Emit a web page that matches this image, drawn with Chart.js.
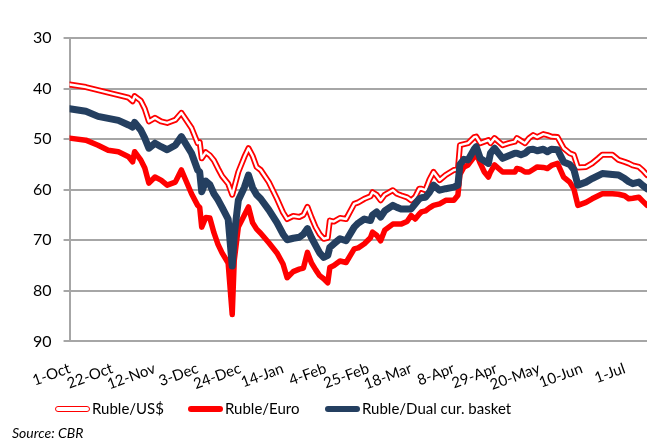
<!DOCTYPE html>
<html>
<head>
<meta charset="utf-8">
<script src="https://cdn.jsdelivr.net/npm/chart.js@4/dist/chart.umd.min.js"></script>
<style>
  body { margin: 0; background: #fff; font-family: Lato, sans-serif; }
  #wrap { position: relative; width: 652px; height: 445px; }
  .sw { position: absolute; height: 6px; border-radius: 3px; width: 35px; box-sizing: border-box; }
  .lt { position: absolute; font-size: 15px; color: #000; white-space: nowrap; }
  #src { position: absolute; left: 12px; top: 424px; font-size: 14px; font-style: italic; color: #000; }
</style>
</head>
<body>
<div id="wrap">
  <canvas id="chart" width="652" height="445"></canvas>
  <div class="sw" style="left:55px; top:406px; border:1.6px solid #ff0000; background:#fff;"></div>
  <div class="lt" style="left:92px; top:399px;">Ruble/US$</div>
  <div class="sw" style="left:188px; top:406px; background:#ff0000;"></div>
  <div class="lt" style="left:225px; top:399px;">Ruble/Euro</div>
  <div class="sw" style="left:325px; top:406px; background:#243f60;"></div>
  <div class="lt" style="left:362px; top:399px;">Ruble/Dual cur. basket</div>
  <div id="src">Source: CBR</div>
</div>
<script>
// days counted from 1-Oct
let days = [0, 8, 14, 19, 24, 29, 31, 32, 35, 37,
    39, 42, 45, 48, 52, 55, 60, 63, 64, 65,
    67, 69, 71, 73, 75, 78, 80, 81, 83, 86,
    88, 90, 92, 94, 98, 102, 105, 107, 110, 113,
    115, 117, 119, 121, 123, 125, 127, 128, 130, 133,
    136, 140, 142, 145, 148, 149, 151, 153, 155, 159,
    161, 163, 166, 168, 170, 172, 173, 175, 177, 179,
    182, 185, 189, 191, 192, 194, 196, 199, 200, 202,
    204, 206, 207, 209, 213, 216, 219, 220, 222, 224,
    226, 228, 230, 233, 235, 237, 240, 243, 246, 248,
    250, 254, 257, 260, 262, 267, 270, 273, 275, 277,
    280, 282, 284];

let usd = [39.2, 39.7, 40.3, 40.8, 41.3, 41.8, 42.5, 41.5, 42.4, 44.0,
    46.5, 45.8, 46.5, 46.8, 46.2, 44.8, 47.8, 50.8, 50.6, 53.8,
    52.6, 53.2, 54.2, 55.8, 57.3, 58.8, 61.0, 59.5, 56.5, 53.5,
    51.8, 53.3, 55.5, 56.1, 58.5, 61.8, 64.5, 65.8, 65.2, 65.4,
    65.0, 63.4, 65.5, 67.4, 68.8, 69.7, 69.5, 66.1, 66.3, 65.6,
    65.8, 62.8, 62.5, 61.8, 61.3, 60.5, 61.0, 62.1, 61.0, 60.1,
    60.8, 61.1, 61.5, 62.1, 61.4, 59.8, 59.8, 60.1, 58.0, 56.5,
    58.1, 57.1, 56.1, 56.0, 51.2, 51.0, 50.8, 49.6, 49.5, 50.8,
    50.5, 50.2, 50.8, 49.8, 51.2, 50.8, 50.5, 49.8, 50.3, 50.8,
    49.8, 49.2, 49.6, 49.0, 49.2, 49.5, 49.6, 51.8, 52.8, 53.1,
    55.6, 55.5, 54.8, 53.8, 53.1, 53.1, 54.1, 54.5, 54.8, 55.2,
    55.5, 56.2, 57.1];

let euro = [49.8, 50.2, 51.2, 52.2, 52.5, 53.5, 54.5, 52.5, 54.1, 55.7,
    58.7, 57.5, 58.1, 59.1, 58.5, 56.1, 60.8, 63.1, 63.5, 67.4,
    65.5, 65.6, 68.5, 70.8, 72.5, 74.5, 84.7, 74.0, 67.4, 65.0,
    63.4, 66.5, 67.8, 68.6, 70.5, 72.5, 74.7, 77.4, 76.2, 75.7,
    75.5, 72.4, 74.5, 75.8, 77.0, 77.6, 78.4, 75.4, 75.0, 74.1,
    74.4, 71.7, 71.5, 70.7, 69.5, 68.4, 69.0, 70.1, 68.0, 66.8,
    66.8, 66.8, 66.3, 65.1, 65.8, 64.8, 64.4, 64.2, 63.6, 63.1,
    62.8, 62.1, 62.1, 61.1, 57.0, 55.5, 55.1, 53.5, 52.8, 54.8,
    56.5, 57.5, 56.5, 55.1, 56.5, 56.5, 56.5, 55.8, 56.0, 56.5,
    56.5, 56.0, 55.5, 55.6, 55.8, 55.2, 54.8, 57.5, 58.5, 59.8,
    63.1, 62.5, 61.8, 61.2, 60.8, 60.8, 60.9, 61.2, 61.8, 61.7,
    61.5, 62.3, 63.1];

let basket = [44.0, 44.5, 45.5, 45.9, 46.3, 47.2, 47.6, 46.7, 48.2, 49.8,
    51.8, 50.8, 51.5, 52.1, 51.2, 49.5, 52.8, 56.1, 56.5, 60.4,
    58.3, 59.0, 60.8, 62.0, 63.5, 65.8, 75.1, 69.0, 62.1, 59.5,
    57.1, 59.6, 61.0, 61.8, 64.0, 66.5, 68.8, 69.9, 69.6, 69.4,
    68.8, 67.7, 69.5, 71.0, 72.5, 73.4, 73.0, 71.4, 70.7, 69.7,
    70.1, 67.4, 66.6, 65.8, 66.1, 65.0, 64.4, 65.4, 64.2, 63.1,
    63.5, 63.8, 63.8, 63.8, 62.8, 61.8, 61.6, 61.5, 60.5, 59.1,
    60.1, 59.8, 59.5, 59.1, 55.0, 54.0, 54.1, 52.0, 51.5, 53.8,
    54.3, 54.8, 52.8, 51.8, 53.8, 53.3, 52.8, 52.8, 53.1, 52.8,
    52.1, 52.0, 52.3, 52.0, 52.5, 52.0, 52.1, 54.5, 55.0, 56.0,
    59.1, 58.5, 57.8, 57.2, 56.8, 57.0, 57.1, 57.8, 58.4, 58.8,
    58.5, 59.2, 59.8];

let xTickLabels = ["1-Oct", "22-Oct", "12-Nov", "3-Dec", "24-Dec", "14-Jan", "4-Feb",
    "25-Feb", "18-Mar", "8-Apr", "29-Apr", "20-May", "10-Jun", "1-Jul"];

let red = "#ff0000";
let navy = "#243f60";
let gridGrey = "#a6a6a6";

function pts(vals) {
    return days.map((d, i) => ({ x: d, y: vals[i] }));
}

let lineBase = { pointRadius: 0, tension: 0, borderJoinStyle: "round", borderCapStyle: "round", fill: false };

new Chart("chart", {
    type: "line",
    data: {
        datasets: [
            { ...lineBase, label: "Ruble/US$", data: pts(usd), borderColor: red, borderWidth: 6, order: 4 },
            { ...lineBase, label: "Ruble/US$ inner", data: pts(usd), borderColor: "#ffffff", borderWidth: 2.4, order: 3 },
            { ...lineBase, label: "Ruble/Euro", data: pts(euro), borderColor: red, borderWidth: 5.5, order: 2 },
            { ...lineBase, label: "Ruble/Dual cur. basket", data: pts(basket), borderColor: navy, borderWidth: 7, order: 1 }
        ]
    },
    options: {
        responsive: false,
        animation: false,
        layout: { padding: { left: 21, right: 5, top: 38, bottom: 41 } },
        plugins: {
            legend: { display: false },
            tooltip: { enabled: false }
        },
        scales: {
            x: {
                type: "linear",
                min: 0,
                max: 284,
                grid: { display: false },
                border: { display: false },
                afterBuildTicks: axis => {
                    axis.ticks = xTickLabels.map((t, i) => ({ value: i * 21 }));
                },
                ticks: {
                    autoSkip: false,
                    minRotation: 20,
                    maxRotation: 20,
                    padding: 10,
                    color: "#000",
                    font: { family: "Lato", size: 15 },
                    callback: v => xTickLabels[Math.round(v / 21)]
                }
            },
            y: {
                reverse: true,
                min: 30,
                max: 90,
                ticks: {
                    stepSize: 10,
                    padding: 12,
                    color: "#000",
                    font: { family: "Lato", size: 16 }
                },
                grid: { color: gridGrey, lineWidth: 2, tickLength: 6 },
                border: { color: gridGrey, width: 2 }
            }
        }
    }
});
</script>
</body>
</html>
